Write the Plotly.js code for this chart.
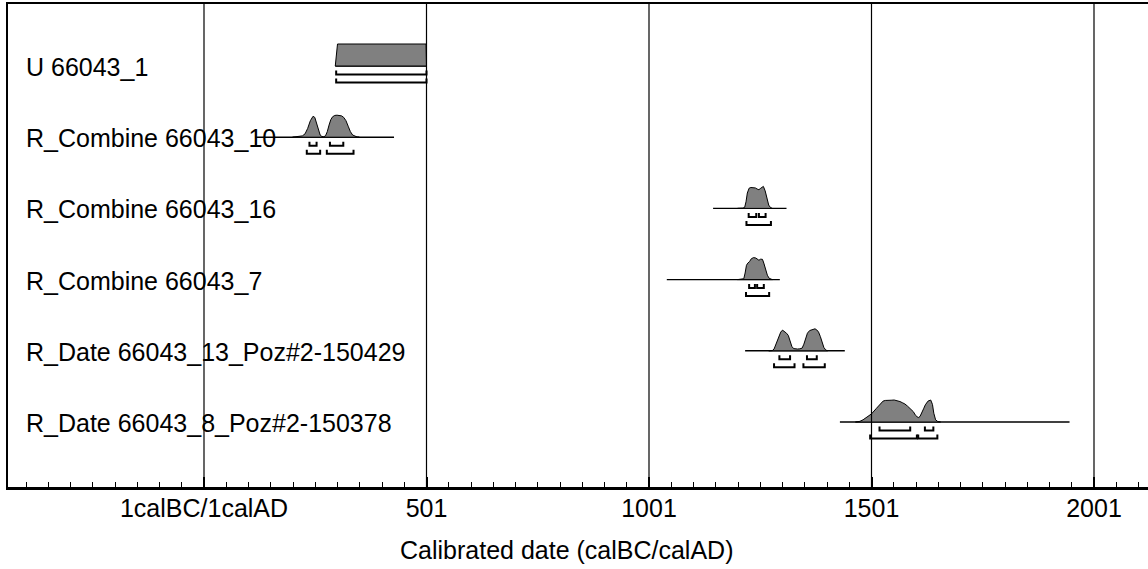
<!DOCTYPE html>
<html>
<head>
<meta charset="utf-8">
<script src="https://cdn.plot.ly/plotly-3.0.1.min.js"></script>
<style>
html,body{margin:0;padding:0;background:#fff;overflow:hidden;}
#chart{width:1148px;height:569px;}
</style>
</head>
<body>
<div id="chart"></div>
<script>
// ---- Data (calendar years, calBC/calAD; probabilities normalised to peak = 1) ----
const rowLabels = [
  "U 66043_1",
  "R_Combine 66043_10",
  "R_Combine 66043_16",
  "R_Combine 66043_7",
  "R_Date 66043_13_Poz#2-150429",
  "R_Date 66043_8_Poz#2-150378"
];

const row1Years = [296, 301, 500, 501];
const row1Prob  = [0, 1, 1, 0];

const row2Years = [200,216,222,228,234,240,246,250,254,258,262,266,270,274,278,282,286,290,295,300,305,310,315,320,325,330,335,340,345,350];
const row2Prob  = [0,0.02,0.06,0.15,0.4,0.75,0.95,0.9,0.6,0.3,0.1,0.03,0.02,0.06,0.25,0.55,0.8,0.93,0.99,1.0,1.0,0.97,0.9,0.75,0.5,0.25,0.1,0.04,0.01,0];

const row3Years = [1200,1212,1216,1219,1222,1226,1230,1235,1240,1244,1248,1251,1255,1258,1262,1266,1270,1274,1278];
const row3Prob  = [0,0.01,0.05,0.3,0.7,0.92,0.95,0.95,0.93,0.88,0.85,0.9,0.97,1.0,0.8,0.45,0.15,0.04,0];

const row4Years = [1200,1210,1214,1217,1220,1223,1227,1231,1236,1241,1245,1248,1252,1256,1259,1263,1267,1271,1275,1278];
const row4Prob  = [0,0.01,0.04,0.3,0.65,0.75,0.82,0.95,1.0,0.98,0.9,0.88,0.93,0.92,0.75,0.45,0.2,0.06,0.01,0];

const row5Years = [1270,1278,1282,1287,1292,1297,1301,1305,1310,1314,1318,1322,1326,1330,1335,1340,1345,1349,1353,1357,1362,1366,1370,1374,1378,1382,1386,1390,1394,1398,1402];
const row5Prob  = [0,0.01,0.08,0.35,0.65,0.85,0.94,0.88,0.8,0.7,0.45,0.2,0.1,0.08,0.08,0.09,0.12,0.3,0.6,0.8,0.92,0.95,0.97,1.0,0.95,0.85,0.65,0.4,0.15,0.04,0];

const row6Years = [1465,1475,1482,1490,1501,1512,1520,1527,1532,1538,1545,1552,1558,1565,1570,1576,1582,1587,1595,1600,1606,1610,1614,1618,1622,1628,1634,1638,1641,1645,1650,1656];
const row6Prob  = [0,0.03,0.1,0.22,0.37,0.62,0.8,0.95,0.98,1.0,0.99,1.0,0.98,0.93,0.88,0.82,0.72,0.62,0.47,0.3,0.2,0.25,0.4,0.6,0.78,0.95,1.0,0.8,0.4,0.1,0.02,0];

// extent of the horizontal line under each distribution
const lineExtent = [[296,501],[116,428],[1145,1310],[1041,1295],[1217,1441],[1430,1946]];

// 68.2% and 95.4% highest posterior density ranges
const hpd68 = [
  [[298,501]],
  [[238,254],[284,314]],
  [[1225,1242],[1248,1263]],
  [[1226,1239],[1244,1259]],
  [[1294,1318],[1356,1378]],
  [[1519,1588],[1621,1640]]
];
const hpd95 = [
  [[298,501]],
  [[232,262],[277,337]],
  [[1220,1275]],
  [[1219,1271]],
  [[1282,1328],[1348,1396]],
  [[1498,1603],[1606,1649]]
];

const tickVals = [1, 501, 1001, 1501, 2001];
const tickText = ["1calBC/1calAD", "501", "1001", "1501", "2001"];
const axisTitle = "Calibrated date (calBC/calAD)";

// ---- Build traces ----
const yearsList = [row1Years,row2Years,row3Years,row4Years,row5Years,row6Years];
const probList  = [row1Prob,row2Prob,row3Prob,row4Prob,row5Prob,row6Prob];

const rowPx = 71.2;          // pixels per row
const H = 22 / rowPx;        // peak height in row units
const off68 = 8.5 / rowPx, off95 = 16.5 / rowPx, tickH = 4 / rowPx;

const traces = [];
for (let r = 0; r < rowLabels.length; r++) {
  traces.push({
    x: lineExtent[r], y: [r, r], mode: 'lines', type: 'scatter',
    line: {color: 'black', width: 1.4}, hoverinfo: 'skip', showlegend: false
  });
  const xs = yearsList[r].slice();
  const ys = probList[r].map(p => r - H * p);
  xs.push(xs[xs.length-1], xs[0]);
  ys.push(r, r);
  traces.push({
    x: xs, y: ys, mode: 'lines', type: 'scatter', fill: 'toself',
    fillcolor: '#808080', line: {color: 'black', width: 1},
    name: rowLabels[r], hoverinfo: 'name', showlegend: false
  });
  [[hpd68[r], off68], [hpd95[r], off95]].forEach(([ranges, off]) => {
    const bx = [], by = [];
    ranges.forEach(([a, b]) => {
      bx.push(a, a, b, b, null);
      by.push(r + off - tickH, r + off, r + off, r + off - tickH, null);
    });
    traces.push({
      x: bx, y: by, mode: 'lines', type: 'scatter',
      line: {color: 'black', width: 2}, hoverinfo: 'skip', showlegend: false
    });
  });
}

const FONT = 'Liberation Sans, Arial, Helvetica, sans-serif';
const FS = 25;

const annotations = rowLabels.map((t, r) => ({
  text: t, xref: 'paper', x: (24 - 8) / 1140, xanchor: 'left',
  yref: 'y', y: r + 1 / rowPx, yanchor: 'middle', showarrow: false,
  font: {family: FONT, size: FS, color: 'black'}
}));
annotations.push({
  text: axisTitle, xref: 'paper', x: (566 - 8) / 1140, xanchor: 'center',
  yref: 'paper', y: -(550 - 487) / 483, yanchor: 'middle', showarrow: false,
  font: {family: FONT, size: FS, color: 'black'}
});

const shapes = tickVals.map(v => ({
  type: 'line', xref: 'x', yref: 'paper', x0: v, x1: v, y0: 0, y1: 1,
  line: {color: 'black', width: 1.2}, layer: 'above'
}));

const x0 = 1 - 196 / 0.445;
const x1 = x0 + 1140 / 0.445;

const layout = {
  width: 1148, height: 569,
  margin: {l: 8, r: 0, t: 4, b: 82},
  paper_bgcolor: 'white', plot_bgcolor: 'white',
  showlegend: false,
  font: {family: FONT, size: FS, color: 'black'},
  xaxis: {
    range: [x0, x1], showgrid: false, zeroline: false,
    tickvals: tickVals, ticktext: tickText,
    ticks: 'inside', ticklen: 10, tickwidth: 2, tickcolor: 'black',
    ticklabelstandoff: -3,
    showline: true, linecolor: 'black', linewidth: 2.5, mirror: true,
    tickfont: {family: FONT, size: FS, color: 'black'},
    minor: {dtick: 50, tick0: 1, ticks: 'inside', ticklen: 5, tickwidth: 1, tickcolor: 'black', showgrid: false}
  },
  yaxis: {
    range: [(487 - 66) / rowPx, (4 - 66) / rowPx],
    showgrid: false, zeroline: false, showticklabels: false, ticks: '',
    showline: true, linecolor: 'black', linewidth: 2.2
  },
  annotations: annotations,
  shapes: shapes
};

Plotly.newPlot('chart', traces, layout, {displayModeBar: false, staticPlot: true});
</script>
</body>
</html>
